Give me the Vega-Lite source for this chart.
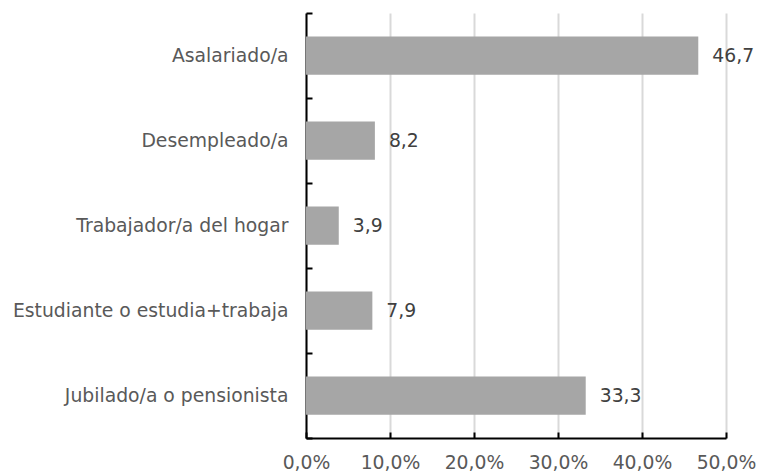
{
  "$schema": "https://vega.github.io/schema/vega-lite/v6.json",
  "width": 420,
  "height": 425,
  "autosize": {"type": "none"},
  "padding": {"left": 306, "top": 13, "right": 32, "bottom": 35},
  "background": "white",
  "data": {
    "values": [
      {"categoria": "Asalariado/a", "valor": 46.7},
      {"categoria": "Desempleado/a", "valor": 8.2},
      {"categoria": "Trabajador/a del hogar", "valor": 3.9},
      {"categoria": "Estudiante o estudia+trabaja", "valor": 7.9},
      {"categoria": "Jubilado/a o pensionista", "valor": 33.3}
    ]
  },
  "encoding": {
    "y": {
      "field": "categoria",
      "type": "nominal",
      "sort": null,
      "scale": {"paddingInner": 0, "paddingOuter": 0},
      "axis": {
        "title": null,
        "domainColor": "#000000",
        "domainWidth": 2,
        "tickColor": "#000000",
        "tickWidth": 2,
        "tickSize": -6,
        "tickBand": "extent",
        "labelPadding": 24,
        "labelLimit": 400,
        "labelFont": "DejaVu Sans",
        "labelFontSize": 18.8,
        "labelColor": "#595959",
        "grid": false
      }
    },
    "x": {
      "field": "valor",
      "type": "quantitative",
      "scale": {"domain": [0, 50], "nice": false},
      "axis": {
        "title": null,
        "values": [0, 10, 20, 30, 40, 50],
        "labelExpr": "format(datum.value / 100, '.1%')",
        "labelOverlap": false,
        "labelFlush": false,
        "domainColor": "#000000",
        "domainWidth": 2,
        "tickColor": "#000000",
        "tickWidth": 2,
        "tickSize": -6,
        "labelPadding": 21,
        "labelFont": "DejaVu Sans",
        "labelFontSize": 18.8,
        "labelColor": "#595959",
        "grid": true,
        "gridColor": "#d9d9d9",
        "gridWidth": 2
      }
    }
  },
  "layer": [
    {"mark": {"type": "bar", "color": "#a6a6a6", "height": {"band": 0.45}}},
    {
      "mark": {"type": "text", "align": "left", "baseline": "middle", "dx": 14, "font": "DejaVu Sans", "fontSize": 18.8, "color": "#404040"},
      "encoding": {"text": {"field": "valor", "type": "quantitative", "format": ".1f"}}
    }
  ],
  "config": {
    "view": {"stroke": null},
    "locale": {"number": {"decimal": ",", "thousands": ".", "grouping": [3], "currency": ["", " €"]}}
  }
}
